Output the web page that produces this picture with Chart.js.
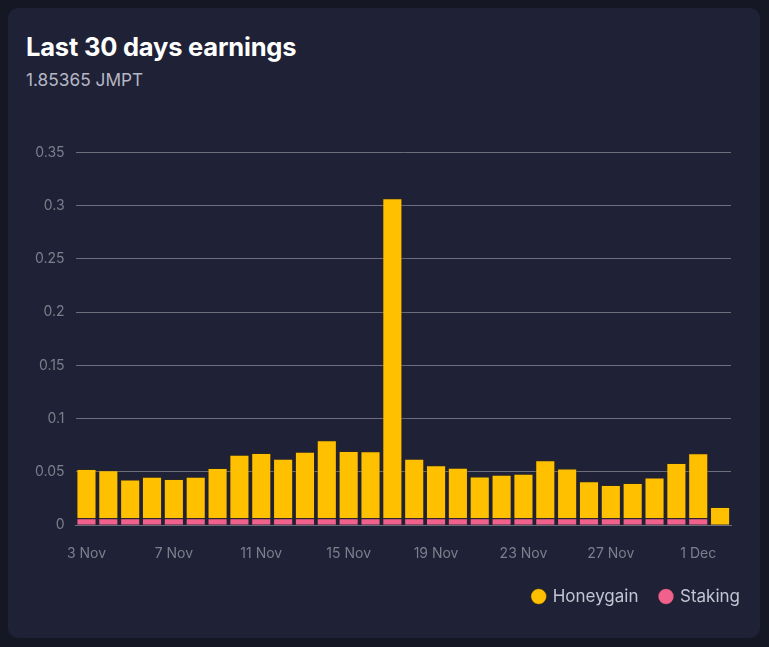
<!DOCTYPE html>
<html>
<head>
<meta charset="utf-8">
<script src="https://cdn.jsdelivr.net/npm/chart.js@4.4.1/dist/chart.umd.min.js"></script>
<style>
  html, body { margin: 0; padding: 0; background: #161724; width: 769px; height: 647px; overflow: hidden; font-family: Inter, "Noto Sans", sans-serif; }
  .card { position: absolute; left: 8px; top: 8px; width: 752px; height: 630px; background: #1f2136; border-radius: 10px; }
  h2 { position: absolute; left: 18px; top: 23px; margin: 0; color: #ffffff; font-size: 25.5px; font-weight: 700; letter-spacing: -0.2px; }
  .sub { position: absolute; left: 18px; top: 61px; color: #b5b7c4; font-size: 17.3px; }
  .chart-container { position: absolute; left: 16px; top: 125px; width: 736px; height: 498px; }
</style>
</head>
<body>
<div class="card">
  <h2>Last 30 days earnings</h2>
  <div class="sub">1.85365 JMPT</div>
  <div class="chart-container"><canvas id="earningsChart"></canvas></div>
</div>
<script>
const days = [
  "3 Nov", "4 Nov", "5 Nov", "6 Nov", "7 Nov", "8 Nov", "9 Nov", "10 Nov", "11 Nov", "12 Nov",
  "13 Nov", "14 Nov", "15 Nov", "16 Nov", "17 Nov", "18 Nov", "19 Nov", "20 Nov", "21 Nov", "22 Nov",
  "23 Nov", "24 Nov", "25 Nov", "26 Nov", "27 Nov", "28 Nov", "29 Nov", "30 Nov", "1 Dec", "2 Dec"
];
const staking = [
  0.0066, 0.0066, 0.0066, 0.0066, 0.0066, 0.0066, 0.0066, 0.0066, 0.0066, 0.0066,
  0.0066, 0.0066, 0.0066, 0.0066, 0.0066, 0.0066, 0.0066, 0.0066, 0.0066, 0.0066,
  0.0066, 0.0066, 0.0066, 0.0066, 0.0066, 0.0066, 0.0066, 0.0066, 0.0066, 0
];
const honeygain = [
  0.0462, 0.0449, 0.0364, 0.0389, 0.0367, 0.0389, 0.0471, 0.0596, 0.0613, 0.0558,
  0.0624, 0.0731, 0.0631, 0.0628, 0.3004, 0.0558, 0.0496, 0.0473, 0.0392, 0.0408,
  0.0417, 0.0543, 0.0467, 0.0346, 0.0312, 0.0330, 0.0383, 0.0518, 0.0609, 0.0170
];
const yTicks = [0, 0.05, 0.1, 0.15, 0.2, 0.25, 0.3, 0.35];

// push the legend out past the plot's right edge and up towards the axis
const legendShift = {
  id: "legendShift",
  afterLayout(chart) {
    const lg = chart.legend;
    const dx = chart.chartArea.right + 31 - lg.right;
    lg.left += dx;
    lg.right += dx;
    lg.top -= 16;
    lg.bottom -= 16;
  },
};

const ctx = document.getElementById("earningsChart").getContext("2d");
new Chart(ctx, {
  type: "bar",
  data: {
    labels: days,
    datasets: [
      // staking first so it sits at the bottom of the stack
      {
        label: "Staking",
        data: staking,
        backgroundColor: "#f0628c",
        borderColor: "rgba(60, 30, 40, 0.35)",
        borderWidth: 1,
        categoryPercentage: 0.92,
        barPercentage: 1,
      },
      {
        label: "Honeygain",
        data: honeygain,
        backgroundColor: "#ffc000",
        borderColor: "rgba(60, 45, 10, 0.45)",
        borderWidth: 1,
        categoryPercentage: 0.92,
        barPercentage: 1,
      },
    ],
  },
  options: {
    responsive: true,
    maintainAspectRatio: false,
    animation: false,
    layout: { padding: { right: 29 } },
    plugins: {
      legend: {
        position: "bottom",
        align: "end",
        reverse: true,
        labels: {
          usePointStyle: true,
          pointStyle: "circle",
          boxWidth: 11,
          boxHeight: 11,
          padding: 22,
          color: "#c3c5d2",
          font: { family: "Inter", size: 17 },
        },
      },
      tooltip: { enabled: false },
    },
    scales: {
      x: {
        stacked: true,
        grid: { display: false, drawTicks: false },
        border: { color: "#6c6e7c" },
        ticks: {
          autoSkip: false,
          maxRotation: 0,
          padding: 20,
          color: "#7d7f8c",
          font: { family: "Inter", size: 14 },
          callback: (v, i) => (i % 4 === 0 ? days[i] : ""),
        },
      },
      y: {
        stacked: true,
        min: 0,
        max: 0.35,
        afterBuildTicks: (axis) => { axis.ticks = yTicks.map((v) => ({ value: v })); },
        grid: { color: "#6c6e7c", drawTicks: false },
        border: { display: false },
        ticks: {
          padding: 11,
          color: "#7d7f8c",
          font: { family: "Inter", size: 14 },
          callback: (v) => String(v),
        },
      },
    },
  },
  plugins: [legendShift],
});
</script>
</body>
</html>
